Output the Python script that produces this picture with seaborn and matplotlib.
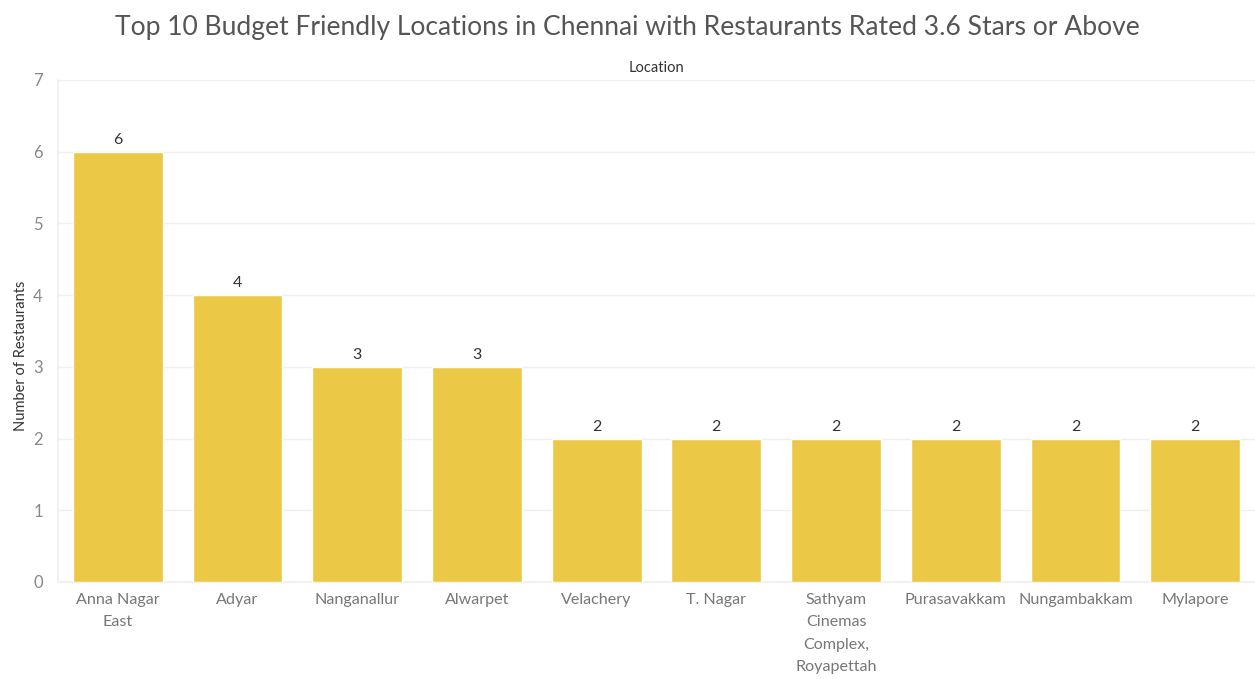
import matplotlib
matplotlib.use("Agg")
import matplotlib.pyplot as plt
import seaborn as sns
import pandas as pd
import numpy as np

locations = ["Anna Nagar\nEast", "Adyar", "Nanganallur", "Alwarpet", "Velachery",
             "T. Nagar", "Sathyam\nCinemas\nComplex,\nRoyapettah", "Purasavakkam",
             "Nungambakkam", "Mylapore"]
counts = [6, 4, 3, 3, 2, 2, 2, 2, 2, 2]

df = pd.DataFrame({"Location": locations, "Count": counts})

sns.set_theme(style="white")
plt.rcParams['font.family'] = ['Lato', 'DejaVu Sans']

fig = plt.figure(figsize=(12.55, 6.79), dpi=100)
ax = fig.add_axes([58/1255, 1-582/679, 1-58/1255, (582-80)/679])

sns.barplot(data=df, x="Location", y="Count", color="#EBC946", width=0.75,
            saturation=1, ax=ax, zorder=3)

ax.set_ylim(0, 7)
ax.set_xlim(-0.5, len(locations)-0.5)
ax.set_yticks(range(0, 8))
ax.yaxis.grid(True, color="#efefef", linewidth=1, zorder=0)
for s in ["top", "right"]:
    ax.spines[s].set_visible(False)
ax.spines["left"].set_color("#efefef")
ax.spines["bottom"].set_color("#efefef")
ax.tick_params(axis="y", colors="#efefef", labelcolor="#888888", labelsize=12,
               length=6, width=1, pad=5)
ax.tick_params(axis="x", length=0, labelcolor="#777777", labelsize=11.6, pad=8)
ax.set_xticks(np.arange(-0.5, len(locations), 1), minor=True)
ax.tick_params(axis="x", which="minor", length=6, color="#efefef", width=1)
for lbl in ax.get_xticklabels():
    lbl.set_linespacing(1.75)

for i, v in enumerate(counts):
    ax.text(i, v + 0.07, str(v), ha="center", va="bottom", fontsize=11.5, color="#333333")

ax.set_xlabel("")
ax.set_ylabel("Number of Restaurants", fontsize=10.5, color="#333333")
ax.yaxis.set_label_coords((28-58)/1197, (582-356)/502)

fig.text(0.5, 1-27/679, "Top 10 Budget Friendly Locations in Chennai with Restaurants Rated 3.6 Stars or Above",
         ha="center", va="center", fontsize=19.1, color="#555555", fontweight="normal")
fig.text((58+1255)/2/1255, 1-68/679, "Location", ha="center", va="center",
         fontsize=10.5, color="#333333")

fig.savefig("out.png", dpi=100)
